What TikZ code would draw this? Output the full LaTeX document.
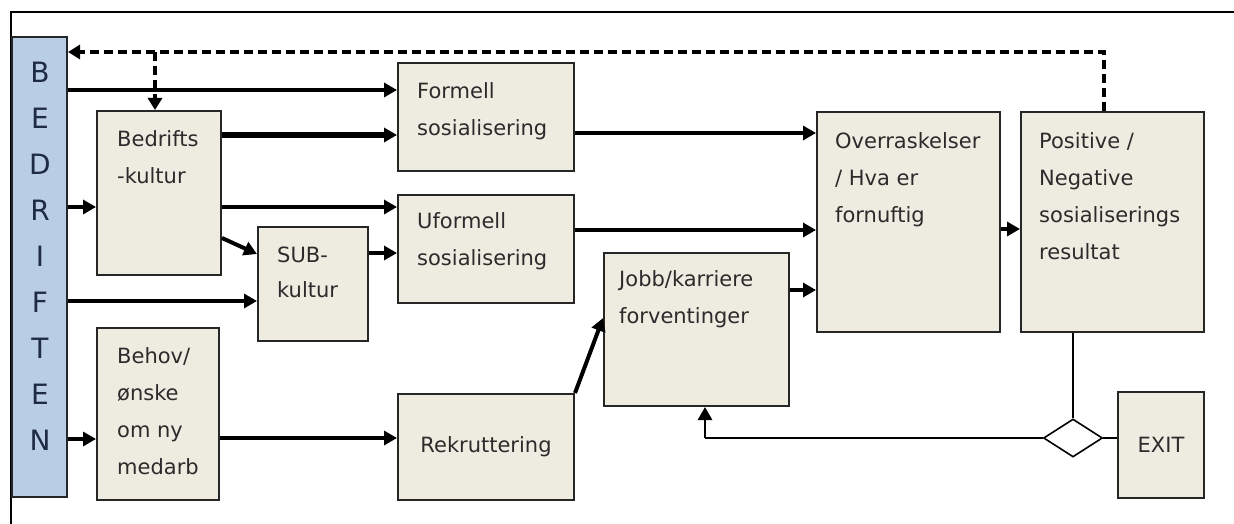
\documentclass[tikz,border=0pt]{standalone}
\usepackage{fontspec}
\setmainfont{DejaVu Sans}
\usetikzlibrary{arrows.meta,shapes.geometric}
\definecolor{boxfill}{HTML}{EEECE1}
\definecolor{boxline}{HTML}{262626}
\definecolor{barfill}{HTML}{B9CDE5}
\definecolor{barletter}{HTML}{1F2A44}
\definecolor{txtcol}{HTML}{2B2B2B}
\newcommand\firstline{\rule{0pt}{16pt}}
\begin{document}
\begin{tikzpicture}[x=1pt,y=-1pt,
  box/.style={rectangle, draw=boxline, fill=boxfill, line width=2pt, inner sep=0pt,
    font=\fontsize{21}{37}\selectfont, text=txtcol},
  txt/.style={inner sep=0pt, anchor=north west, align=left, text=txtcol,
    font=\fontsize{21}{37}\selectfont},
  flow/.style={line width=4pt, -{Triangle[length=13pt,width=14pt]}},
  heavyflow/.style={flow, line width=5.5pt},
  fb/.style={line width=3.8pt, dash pattern=on 9pt off 5pt},
  fbarrow/.style={fb, -{Triangle[length=12pt,width=14pt]}},
  thin/.style={line width=2pt},
]
\useasboundingbox (0,0) rectangle (1234,524);

% outer frame (top and left edges)
\draw[line width=2pt] (1234,12) -- (11,12) -- (11,524);

% company column
\node[rectangle, draw=boxline, fill=barfill, line width=2pt, inner sep=0pt,
  minimum width=55pt, minimum height=460pt] (bar) at (39.5,267) {};
\foreach \ch [count=\k from 0] in {B,E,D,R,I,F,T,E,N}
  \node[inner sep=0pt, text=barletter, font=\fontsize{28}{28}\selectfont]
    (letter\k) at (40,72+46*\k) {\ch};

% boxes
\node[box, minimum width=124pt, minimum height=164pt] (bed) at (159,193) {};
\node[box, minimum width=176pt, minimum height=108pt] (form) at (486,117) {};
\node[box, minimum width=176pt, minimum height=108pt] (uform) at (486,249) {};
\node[box, minimum width=110pt, minimum height=114pt] (sub) at (313,284) {};
\node[box, minimum width=122pt, minimum height=172pt] (behov) at (158,414) {};
\node[box, minimum width=176pt, minimum height=106pt] (rekr) at (486,447) {Rekruttering};
\node[box, minimum width=185pt, minimum height=153pt] (jobb) at (696.5,329.5) {};
\node[box, minimum width=183pt, minimum height=220pt] (over) at (908.5,222) {};
\node[box, minimum width=183pt, minimum height=220pt] (pos) at (1112.5,222) {};
\node[box, minimum width=86pt, minimum height=106pt] (exit) at (1161,445) {EXIT};
\node[diamond, draw=black, fill=white, line width=1.6pt, inner sep=0pt, aspect=1.55,
  minimum width=59pt, minimum height=38pt] (dia) at (1073,438) {};

% box texts
\node[txt] (bedtxt) at (117,130) {\firstline Bedrifts\\-kultur};
\node[txt] (formtxt) at (417,82) {\firstline Formell\\sosialisering};
\node[txt] (uformtxt) at (417,212) {\firstline Uformell\\sosialisering};
\node[txt, font=\fontsize{21}{35}\selectfont] (subtxt) at (277,246) {\firstline SUB-\\kultur};
\node[txt] (behovtxt) at (117,347) {\firstline Behov/\\ønske\\om ny\\medarb};
\node[txt] (jobbtxt) at (619,270) {\firstline Jobb/karriere\\forventinger};
\node[txt] (overtxt) at (835,132) {\firstline Overraskelser\\/ Hva er\\fornuftig};
\node[txt] (postxt) at (1039,132) {\firstline Positive /\\Negative\\sosialiserings\\resultat};

% feedback loop
\coordinate (fbk) at (1104,52);
\coordinate (br) at (155,52);
\draw[fbarrow] (pos.north -| fbk) -- (fbk) -- (bar.east |- fbk);
\draw[fbarrow] (br) -- (br |- bed.north);

% main flows
\draw[flow] (bar.east |- 0,90) -- (form.west |- 0,90);
\draw[heavyflow] (bed.east |- 0,135) -- (form.west |- 0,135);
\draw[flow] (bar.east |- 0,207) -- (bed.west |- 0,207);
\draw[flow] (bed.east |- 0,207) -- (uform.west |- 0,207);
\draw[flow] (bed.east |- 0,238) -- (sub.west |- 0,254);
\draw[flow] (sub.east |- 0,253) -- (uform.west |- 0,253);
\draw[flow] (bar.east |- 0,301) -- (sub.west |- 0,301);
\draw[flow] (bar.east |- 0,439) -- (behov.west |- 0,439);
\draw[flow] (behov.east |- 0,438) -- (rekr.west |- 0,438);
\draw[flow] (form.east |- 0,133) -- (over.west |- 0,133);
\draw[flow] (uform.east |- 0,230) -- (over.west |- 0,230);
\draw[flow] (rekr.north east) -- (jobb.west |- 0,318);
\draw[flow] (jobb.east |- 0,290) -- (over.west |- 0,290);
\draw[flow] (over.east |- 0,229) -- (pos.west |- 0,229);

% outcome branch
\coordinate (ret) at (705,438);
\draw[thin] (dia.north |- pos.south) -- (dia.north);
\draw[thin] (dia.east) -- (exit.west |- dia.east);
\draw[thin] (dia.west) -- (ret);
\draw[line width=2.8pt, -{Triangle[length=13pt,width=14pt]}] (ret) -- (ret |- jobb.south);
\end{tikzpicture}
\end{document}
